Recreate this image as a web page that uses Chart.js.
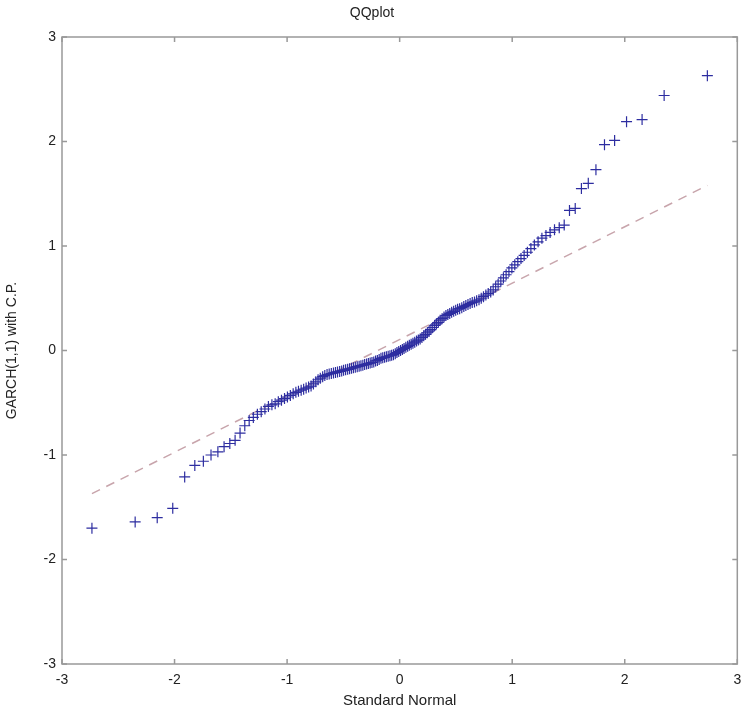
<!DOCTYPE html>
<html>
<head>
<meta charset="utf-8">
<title>QQplot</title>
<script src="https://cdn.jsdelivr.net/npm/chart.js@4"></script>
<style>
  html, body { margin: 0; padding: 0; background: #fff; }
  #c { display: block; }
</style>
</head>
<body>
<canvas id="c" width="744" height="716"></canvas>
<script>
// standard normal quantiles (x) and sorted sample values (y)
const xQuant = [
  -2.734, -2.350, -2.154, -2.016, -1.910, -1.820, -1.744, -1.676, -1.615, -1.560,
  -1.509, -1.462, -1.418, -1.376, -1.337, -1.300, -1.264, -1.230, -1.197, -1.166,
  -1.135, -1.106, -1.078, -1.050, -1.023, -0.997, -0.971, -0.946, -0.922, -0.899,
  -0.875, -0.853, -0.831, -0.809, -0.787, -0.766, -0.745, -0.725, -0.705, -0.684,
  -0.665, -0.645, -0.626, -0.607, -0.588, -0.570, -0.552, -0.533, -0.515, -0.498,
  -0.480, -0.462, -0.445, -0.428, -0.411, -0.394, -0.377, -0.360, -0.344, -0.327,
  -0.311, -0.294, -0.278, -0.262, -0.246, -0.230, -0.214, -0.198, -0.182, -0.166,
  -0.150, -0.134, -0.118, -0.102, -0.086, -0.071, -0.055, -0.039, -0.024, -0.008,
  0.008, 0.024, 0.039, 0.055, 0.071, 0.086, 0.102, 0.118, 0.134, 0.150,
  0.166, 0.182, 0.198, 0.214, 0.230, 0.246, 0.262, 0.278, 0.294, 0.311,
  0.327, 0.344, 0.360, 0.377, 0.394, 0.411, 0.428, 0.445, 0.462, 0.480,
  0.498, 0.515, 0.533, 0.552, 0.570, 0.588, 0.607, 0.626, 0.645, 0.665,
  0.684, 0.705, 0.725, 0.745, 0.766, 0.787, 0.809, 0.831, 0.853, 0.875,
  0.899, 0.922, 0.946, 0.971, 0.997, 1.023, 1.050, 1.078, 1.106, 1.135,
  1.166, 1.197, 1.230, 1.264, 1.300, 1.337, 1.376, 1.418, 1.462, 1.509,
  1.560, 1.615, 1.676, 1.744, 1.820, 1.910, 2.016, 2.154, 2.350, 2.734
];
const ySample = [
  -1.70, -1.64, -1.60, -1.51, -1.21, -1.10, -1.06, -1.00, -0.97, -0.92,
  -0.89, -0.86, -0.79, -0.72, -0.67, -0.64, -0.61, -0.585, -0.56, -0.535,
  -0.52, -0.51, -0.49, -0.475, -0.46, -0.445, -0.43, -0.415, -0.40, -0.39,
  -0.38, -0.37, -0.36, -0.35, -0.34, -0.32, -0.30, -0.28, -0.265, -0.25,
  -0.24, -0.23, -0.225, -0.22, -0.215, -0.21, -0.205, -0.20, -0.195, -0.19,
  -0.185, -0.18, -0.175, -0.17, -0.165, -0.16, -0.155, -0.15, -0.145, -0.14,
  -0.135, -0.13, -0.125, -0.12, -0.115, -0.11, -0.10, -0.095, -0.085, -0.075,
  -0.07, -0.065, -0.06, -0.055, -0.05, -0.045, -0.04, -0.03, -0.02, -0.01,
  0.00, 0.01, 0.02, 0.03, 0.04, 0.05, 0.06, 0.07, 0.08, 0.09,
  0.10, 0.11, 0.125, 0.14, 0.155, 0.17, 0.185, 0.20, 0.22, 0.24,
  0.255, 0.27, 0.29, 0.305, 0.32, 0.335, 0.345, 0.355, 0.365, 0.375,
  0.385, 0.395, 0.40, 0.41, 0.42, 0.43, 0.44, 0.45, 0.46, 0.465,
  0.475, 0.485, 0.50, 0.515, 0.53, 0.545, 0.56, 0.58, 0.61, 0.635,
  0.665, 0.695, 0.725, 0.755, 0.79, 0.82, 0.85, 0.88, 0.91, 0.94,
  0.975, 1.01, 1.04, 1.075, 1.10, 1.13, 1.155, 1.175, 1.20, 1.34,
  1.36, 1.55, 1.60, 1.73, 1.97, 2.01, 2.19, 2.21, 2.44, 2.63
];
// dashed reference line end points
const refX = [-2.734, 2.734];
const refY = [-1.37, 1.58];
const xTicks = [-3, -2, -1, 0, 1, 2, 3];
const yTicks = [-3, -2, -1, 0, 1, 2, 3];

const points = xQuant.map((x, i) => ({ x: x, y: ySample[i] }));
const refLine = refX.map((x, i) => ({ x: x, y: refY[i] }));

const FONT = 'Liberation Sans, Arial, Helvetica, sans-serif';

// MATLAB style box with inward ticks
const boxPlugin = {
  id: 'box',
  afterDraw(chart) {
    const { ctx, chartArea: a, scales } = chart;
    ctx.save();
    ctx.strokeStyle = '#999';
    ctx.lineWidth = 1.5;
    ctx.strokeRect(a.left, a.top, a.right - a.left, a.bottom - a.top);
    const t = 5;
    ctx.beginPath();
    xTicks.forEach(v => {
      const px = scales.x.getPixelForValue(v);
      ctx.moveTo(px, a.bottom); ctx.lineTo(px, a.bottom - t);
      ctx.moveTo(px, a.top); ctx.lineTo(px, a.top + t);
    });
    yTicks.forEach(v => {
      const py = scales.y.getPixelForValue(v);
      ctx.moveTo(a.left, py); ctx.lineTo(a.left + t, py);
      ctx.moveTo(a.right, py); ctx.lineTo(a.right - t, py);
    });
    ctx.stroke();
    ctx.restore();
  }
};

new Chart(document.getElementById('c'), {
  type: 'scatter',
  data: {
    datasets: [
      {
        label: 'data',
        data: points,
        pointStyle: 'cross',
        pointRadius: 5.5,
        borderColor: 'rgb(45,45,160)',
        borderWidth: 1.2,
        backgroundColor: 'rgb(45,45,160)'
      },
      {
        label: 'reference',
        type: 'line',
        data: refLine,
        borderColor: 'rgb(200,165,172)',
        borderWidth: 1.5,
        borderDash: [9, 7],
        pointRadius: 0,
        fill: false
      }
    ]
  },
  options: {
    responsive: false,
    animation: false,
    layout: { padding: { left: 0, right: 0, top: 0, bottom: 0 } },
    plugins: {
      legend: { display: false },
      tooltip: { enabled: false },
      title: {
        display: true,
        text: 'QQplot',
        color: '#222',
        font: { family: FONT, size: 14, weight: 'normal' },
        padding: { top: 5, bottom: 15.2 }
      }
    },
    scales: {
      x: {
        type: 'linear',
        min: -3, max: 3,
        afterFit: s => { s.height = 52; s.paddingRight = 6; },
        afterBuildTicks: s => { s.ticks = xTicks.map(v => ({ value: v })); },
        grid: { display: false, drawTicks: false },
        border: { display: false },
        ticks: { color: '#222', padding: 8, font: { family: FONT, size: 14 } },
        title: {
          display: true,
          text: 'Standard Normal',
          color: '#222',
          font: { family: FONT, size: 15 },
          padding: { top: 0, bottom: 6 }
        }
      },
      y: {
        type: 'linear',
        min: -3, max: 3,
        afterFit: s => { s.width = 62; },
        afterBuildTicks: s => { s.ticks = yTicks.map(v => ({ value: v })); },
        grid: { display: false, drawTicks: false },
        border: { display: false },
        ticks: { color: '#222', padding: 6, font: { family: FONT, size: 14 } },
        title: {
          display: true,
          text: 'GARCH(1,1) with C.P.',
          color: '#222',
          font: { family: FONT, size: 14 },
          padding: { top: 4, bottom: 0 }
        }
      }
    }
  },
  plugins: [boxPlugin]
});
</script>
</body>
</html>
